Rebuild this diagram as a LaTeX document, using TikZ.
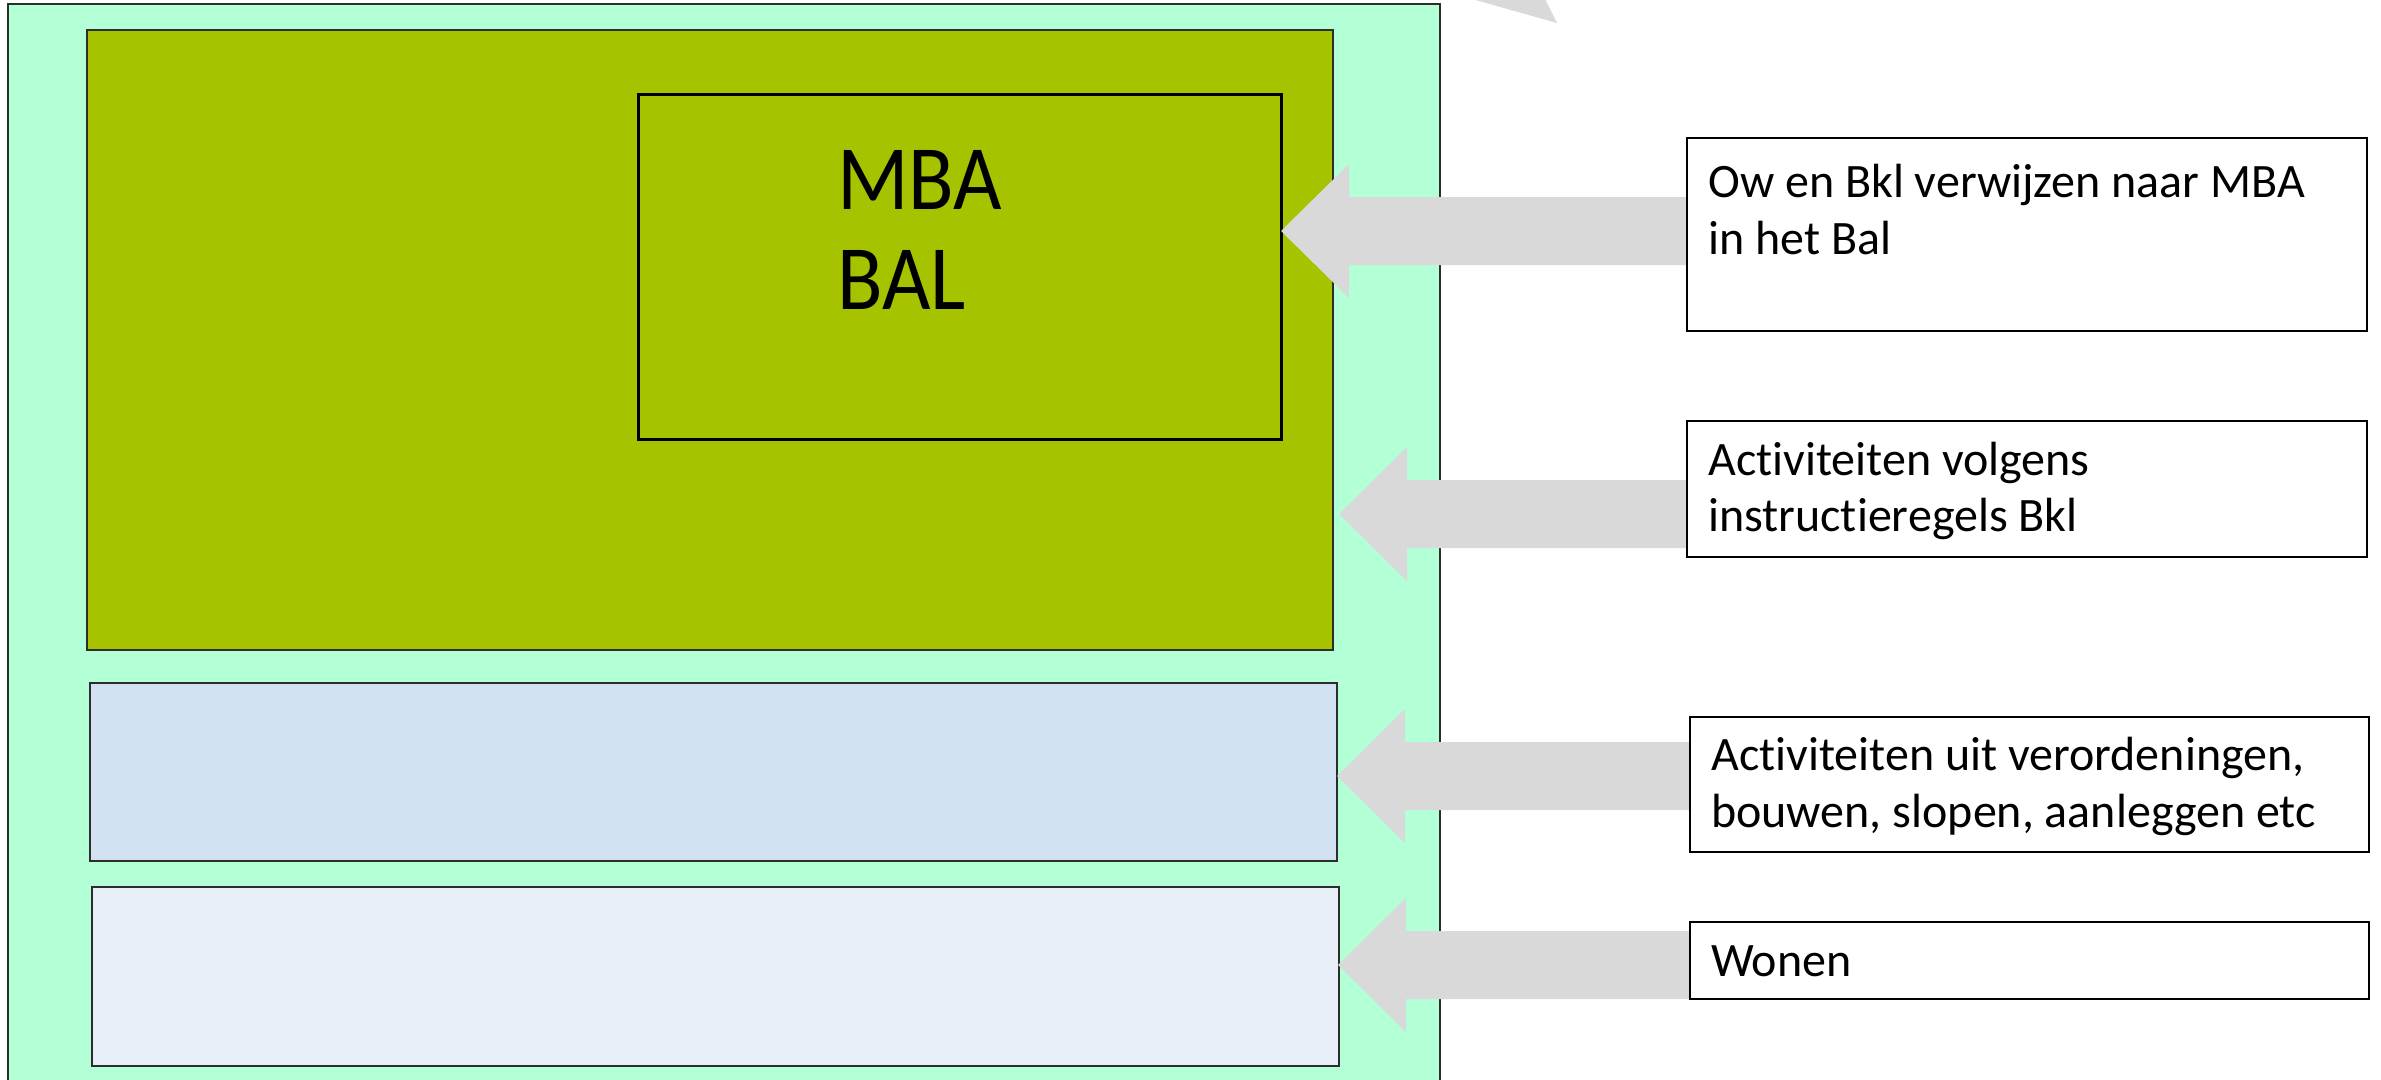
\documentclass[tikz,border=0pt]{standalone}
\usepackage{fontspec}
\setmainfont[Ligatures=NoCommon]{Carlito}
\usetikzlibrary{fit,calc}
\definecolor{mint}{RGB}{179,255,214}
\definecolor{olive}{RGB}{167,195,0}
\definecolor{blueA}{RGB}{210,226,243}
\definecolor{blueB}{RGB}{232,239,249}
\definecolor{arrowgray}{RGB}{217,217,217}
\definecolor{edge}{RGB}{45,45,45}
\tikzset{
  region/.style={draw=edge, line width=2pt, inner sep=0pt, outer sep=0pt},
  tbox/.style={draw=black, line width=2.5pt, fill=white, inner sep=0pt},
  label/.style={anchor=base west, inner sep=0pt, font=\fontsize{48}{56}\selectfont},
  big/.style={anchor=base west, inner sep=0pt, font=\fontsize{92}{100}\selectfont},
  blockarrow/.style={fill=arrowgray, draw=none}
}
\begin{document}
\begin{tikzpicture}[x=1pt,y=-1pt]
\useasboundingbox (0,0) rectangle (2381,1079);
\clip (0,0) rectangle (2381,1079);
% outer region
\node[region, fill=mint, fit={(8,4) (1440,1110)}] (outer) {};
\node[region, fill=olive, fit={(87,30) (1333,650)}] (olivebox) {};
\node[region, draw=black, line width=3pt, fill=olive, fit={(638,94) (1281,439)}] (mba) {};
\node[big] (mbatxt) at (837,209) {\scalebox{0.91}[1]{MBA}};
\node[big] (baltxt) at (837,309) {\scalebox{0.91}[1]{BAL}};
\node[region, fill=blueA, fit={(90,683) (1337,861)}] (blue1) {};
\node[region, fill=blueB, fit={(92,887) (1339,1066)}] (blue2) {};
% text boxes
\node[tbox, fit={(1687,138) (2367,331)}] (t1) {};
\node[tbox, fit={(1687,421) (2367,557)}] (t2) {};
\node[tbox, fit={(1690,717) (2369,852)}] (t3) {};
\node[tbox, fit={(1690,922) (2369,999)}] (t4) {};
\node[label] (l1a) at (1708,197) {Ow en Bkl verwijzen naar MBA};
\node[label] (l1b) at (1708,254) {in het Bal};
\node[label] (l2a) at (1708,475) {Activiteiten volgens};
\node[label] (l2b) at (1708,531) {instructieregels Bkl};
\node[label] (l3a) at (1711,770) {Activiteiten uit verordeningen,};
\node[label] (l3b) at (1711,827) {bouwen, slopen, aanleggen etc};
\node[label] (l4) at (1711,976) {Wonen};
% arrow tips
\coordinate (tipA) at (1281,231);
\coordinate (tipB) at (1339,514);
\coordinate (tipC) at (1337,776);
\coordinate (tipD) at (1338,965);
\foreach \t/\b in {tipA/t1, tipB/t2, tipC/t3, tipD/t4}{
  \fill[blockarrow] (\t) -- ++(68,-67) -- ++(0,33) -- ($(\b.west |- \t)+(0,-34)$)
    -- ($(\b.west |- \t)+(0,34)$) -- ($(\t)+(68,34)$) -- ++(0,33) -- cycle;
}
% partial arrow at top
\fill[blockarrow] (1472,-1) -- (1545,-1) -- (1557,23) -- cycle;
\end{tikzpicture}
\end{document}
